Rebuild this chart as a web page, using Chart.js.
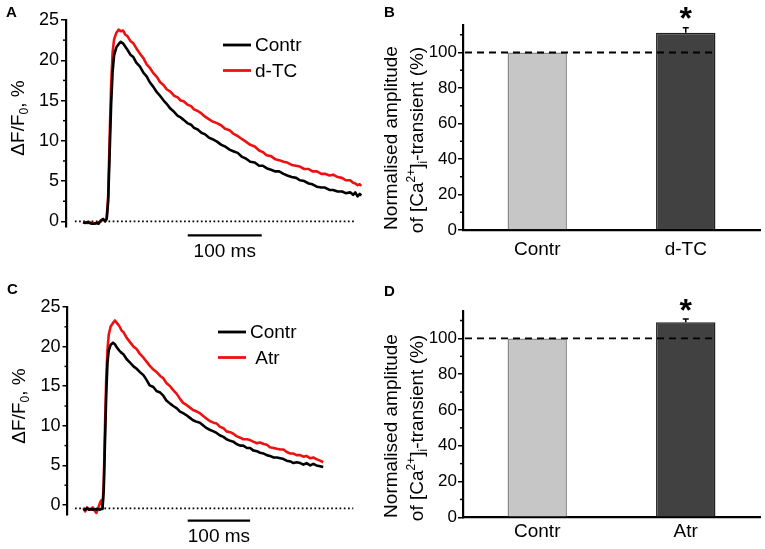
<!DOCTYPE html>
<html>
<head>
<meta charset="utf-8">
<script src="https://cdn.jsdelivr.net/npm/chart.js@4.4.1/dist/chart.umd.min.js"></script>
<style>
  body { margin: 0; background: #fff; }
  #wrap { position: relative; width: 765px; height: 549px; font-family: 'Liberation Sans', Arial, sans-serif; color: #000; overflow: hidden; }
  canvas { position: absolute; }
  .letter { position: absolute; font-weight: bold; font-size: 15px; line-height: 15px; }
  .ytitle { position: absolute; white-space: nowrap; font-size: 19px; line-height: 19px; transform: translate(-50%, -50%) rotate(-90deg); }
  sup, sub { font-size: 12px; line-height: 0; }
</style>
</head>
<body>
<div id="wrap">
  <canvas id="chartA" style="left:0;top:0" width="380" height="270"></canvas>
  <canvas id="chartB" style="left:380px;top:0" width="385" height="270"></canvas>
  <canvas id="chartC" style="left:0;top:270px" width="380" height="279"></canvas>
  <canvas id="chartD" style="left:380px;top:270px" width="385" height="279"></canvas>

  <div class="letter" style="left:6px;top:4px">A</div>
  <div class="letter" style="left:384px;top:4px">B</div>
  <div class="letter" style="left:7px;top:281px">C</div>
  <div class="letter" style="left:384px;top:283px">D</div>

  <div class="ytitle" style="left:17px;top:118px">&Delta;F/F<sub>0</sub>, %</div>
  <div class="ytitle" style="left:18px;top:406px">&Delta;F/F<sub>0</sub>, %</div>

  <div class="ytitle" style="left:390px;top:138px">Normalised amplitude</div>
  <div class="ytitle" style="left:416px;top:140px">of [Ca<sup>2+</sup>]<sub>i</sub>-transient (%)</div>
  <div class="ytitle" style="left:390px;top:426px">Normalised amplitude</div>
  <div class="ytitle" style="left:416px;top:428px">of [Ca<sup>2+</sup>]<sub>i</sub>-transient (%)</div>
</div>

<script>
// ---- panel A: Ca transients, control vs d-TC (time in ms, dF/F0 in %)
const timeA = [0, 3, 6, 9, 12, 15, 18, 21, 24, 27, 30, 32, 34, 36, 38, 40, 42, 45, 48, 51,
  54, 57, 60, 64, 68, 72, 77, 82, 86, 90, 95, 100, 104, 109, 113, 118, 123, 128, 132, 136,
  141, 146, 150, 155, 160, 165, 170, 175, 181, 187, 192, 198, 203, 209, 215, 220, 226, 232, 238, 243,
  248, 254, 260, 265, 271, 276, 282, 288, 293, 299, 305, 310, 316, 322, 327, 333, 338, 344, 350, 355,
  361, 365, 368, 371, 374, 376];
const contrA = [-0.1, -0.2, -0.1, -0.2, -0.3, -0.3, -0.2, -0.3, 0.1, 0.3, 0.0, 0.3, 2.5, 8.5, 14.5, 18.6, 20.6, 21.6, 22.0, 22.3,
  22.1, 21.7, 21.3, 20.7, 20.4, 19.7, 19.2, 18.4, 18.0, 17.3, 16.7, 16.0, 15.6, 15.0, 14.6, 14.0, 13.6, 13.1, 12.9, 12.6,
  12.2, 12.0, 11.6, 11.4, 11.0, 10.8, 10.4, 10.2, 9.9, 9.5, 9.3, 8.9, 8.7, 8.5, 8.0, 7.8, 7.4, 7.3, 6.9, 6.9,
  6.6, 6.4, 6.2, 6.2, 5.9, 5.7, 5.5, 5.4, 5.1, 5.0, 4.7, 4.6, 4.3, 4.2, 4.2, 3.9, 3.9, 3.7, 3.7, 3.5,
  3.6, 3.3, 3.6, 3.1, 3.4, 3.2];
const dtcA = [-0.1, -0.1, -0.2, -0.1, -0.2, -0.3, -0.2, -0.1, 0.0, 0.2, 0.1, 0.4, 3.2, 10.5, 17.0, 21.0, 22.6, 23.4, 23.8, 23.6,
  23.7, 23.2, 23.0, 22.4, 22.1, 21.5, 20.8, 20.2, 19.5, 19.1, 18.4, 17.9, 17.3, 16.9, 16.4, 16.1, 15.6, 15.4, 15.0, 14.9,
  14.5, 14.3, 13.9, 13.7, 13.4, 13.0, 12.7, 12.4, 12.2, 11.9, 11.5, 11.3, 10.9, 10.6, 10.2, 9.9, 9.5, 9.3, 8.8, 8.6,
  8.2, 8.1, 7.7, 7.6, 7.4, 7.3, 7.0, 6.9, 6.8, 6.5, 6.5, 6.2, 6.2, 5.9, 5.9, 5.7, 5.8, 5.5, 5.4, 5.1,
  5.1, 4.8, 4.7, 4.5, 4.6, 4.4];
const legendA = ['Contr', 'd-TC'];

// ---- panel C: control vs Atr
const timeC = [0, 3, 6, 9, 12, 15, 18, 21, 24, 27, 29, 31, 33, 35, 37, 39, 41, 44, 48, 51,
  54, 58, 62, 65, 70, 75, 81, 86, 91, 97, 102, 107, 113, 118, 124, 129, 134, 140, 145, 151,
  156, 161, 167, 172, 177, 183, 188, 194, 199, 204, 210, 215, 220, 226, 231, 237, 242, 247, 253, 258,
  264, 269, 274, 280, 285, 291, 296, 301, 307, 312, 318, 323, 328, 334, 339, 344, 350, 355, 360, 366,
  371, 376, 382, 387];
const contrC = [-0.5, -0.6, -0.4, -0.6, -0.5, -0.6, -0.5, -0.6, -0.5, -0.6, -0.5, -0.5, 2.0, 8.0, 14.0, 18.0, 19.5, 20.2, 20.5, 20.3,
  19.9, 19.5, 19.2, 19.0, 18.4, 18.0, 17.5, 17.2, 16.8, 16.4, 15.8, 15.1, 14.9, 14.4, 14.2, 13.8, 13.2, 12.8, 12.5, 12.2,
  11.8, 11.6, 11.3, 11.0, 10.7, 10.5, 10.4, 10.0, 9.7, 9.5, 9.3, 9.1, 8.8, 8.6, 8.3, 8.1, 8.0, 7.7, 7.5, 7.5,
  7.2, 7.2, 6.9, 6.8, 6.6, 6.5, 6.3, 6.2, 6.0, 6.0, 5.9, 5.8, 5.6, 5.5, 5.3, 5.4, 5.3, 5.1, 5.3, 5.0,
  5.2, 5.0, 4.9, 4.8];
const atrC = [-0.4, -0.8, -0.3, -0.5, -0.6, -0.3, -0.7, -1.0, -0.4, 0.3, 0.6, -0.2, 2.8, 10.0, 16.0, 19.6, 21.5, 22.5, 23.0, 23.3,
  23.0, 22.6, 22.0, 21.8, 21.1, 20.6, 20.0, 19.7, 19.1, 18.6, 18.1, 17.6, 17.1, 16.8, 16.3, 16.0, 15.4, 15.0, 14.5, 14.0,
  13.4, 12.9, 12.6, 12.3, 12.0, 11.8, 11.6, 11.2, 10.9, 10.6, 10.4, 10.3, 9.9, 9.7, 9.3, 9.2, 9.0, 8.7, 8.5, 8.3,
  8.3, 8.2, 8.0, 7.8, 7.9, 7.7, 7.6, 7.3, 7.2, 7.1, 7.0, 7.0, 6.7, 6.5, 6.5, 6.3, 6.3, 6.1, 6.2, 5.9,
  6.0, 5.8, 5.6, 5.4];
const legendC = ['Contr', ' Atr'];

const traceTicks = [0, 5, 10, 15, 20, 25];
const traceMinor = [2.5, 7.5, 12.5, 17.5, 22.5];
const scaleBarLabel = '100 ms';

// ---- panels B and D: normalised amplitude (%)
const groupsB = ['Contr', 'd-TC'];
const ampB = [100, 111.2];
const semB = [0, 2.8];
const starB = ['', '*'];
const groupsD = ['Contr', 'Atr'];
const ampD = [100, 109];
const semD = [0, 1.8];
const starD = ['', '*'];
const barTicks = [0, 20, 40, 60, 80, 100];
const barMinor = [10, 30, 50, 70, 90, 110];
const refLevel = 100;

const FONT = "'Liberation Sans', Arial, sans-serif";
Chart.defaults.font.family = FONT;
Chart.defaults.color = '#000';
Chart.defaults.animation = false;

function pts(t, v) {
  return t.map((x, i) => ({ x: x, y: v[i] }));
}

function minorTicksPlugin(values) {
  return {
    id: 'minorTicks',
    afterDraw(chart) {
      const y = chart.scales.y, ctx = chart.ctx;
      const x0 = chart.chartArea.left;
      ctx.save();
      ctx.strokeStyle = '#000';
      ctx.lineWidth = 1.5;
      values.forEach(v => {
        const py = y.getPixelForValue(v);
        ctx.beginPath();
        ctx.moveTo(x0 - 3, py);
        ctx.lineTo(x0, py);
        ctx.stroke();
      });
      ctx.restore();
    }
  };
}

function traceChart(id, cfg) {
  const legendPlugin = {
    id: 'traceLegend',
    afterDraw(chart) {
      const ctx = chart.ctx;
      ctx.save();
      ctx.font = '19px ' + FONT;
      ctx.textBaseline = 'middle';
      ctx.fillStyle = '#000';
      cfg.legend.forEach((label, i) => {
        const ly = cfg.legendY + i * cfg.legendGap;
        ctx.strokeStyle = i === 0 ? '#000' : '#ee1111';
        ctx.lineWidth = 2.8;
        ctx.beginPath();
        ctx.moveTo(cfg.legendX, ly);
        ctx.lineTo(cfg.legendX + 28, ly);
        ctx.stroke();
        ctx.fillText(label, cfg.legendX + 32, ly + 1);
      });
      // scale bar label
      const xs = chart.scales.x, ys = chart.scales.y;
      ctx.textAlign = 'center';
      ctx.fillText(scaleBarLabel, xs.getPixelForValue((cfg.bar[0] + cfg.bar[1]) / 2), ys.getPixelForValue(cfg.barY) + cfg.barTextGap);
      ctx.restore();
    }
  };

  return new Chart(document.getElementById(id), {
    type: 'line',
    data: {
      datasets: [
        { data: pts(cfg.time, cfg.contr), borderColor: '#000', borderWidth: 2.6 },
        { data: pts(cfg.time, cfg.drug), borderColor: '#ee1111', borderWidth: 2.6 },
        { data: [{ x: cfg.base[0], y: cfg.baseY }, { x: cfg.base[1], y: cfg.baseY }],
          borderColor: '#000', borderWidth: 1.7, borderDash: [1.7, 2.5] },
        { data: [{ x: cfg.bar[0], y: cfg.barY }, { x: cfg.bar[1], y: cfg.barY }],
          borderColor: '#000', borderWidth: 2.2, clip: false }
      ]
    },
    options: {
      responsive: false,
      events: [],
      elements: { point: { radius: 0 }, line: { tension: 0, borderCapStyle: 'butt', borderJoinStyle: 'round' } },
      layout: { padding: cfg.padding },
      plugins: { legend: { display: false }, tooltip: { enabled: false } },
      scales: {
        x: { type: 'linear', display: false, min: cfg.xmin, max: cfg.xmax },
        y: {
          min: cfg.ymin, max: 25,
          afterBuildTicks: s => { s.ticks = traceTicks.map(v => ({ value: v })); },
          afterFit: s => { s.width = cfg.axisW; },
          ticks: { font: { size: 18 }, color: '#000', padding: 2 },
          grid: { drawOnChartArea: false, drawTicks: true, tickLength: 5, color: '#000', lineWidth: 1.5 },
          border: { color: '#000', width: 2.2 }
        }
      }
    },
    plugins: [minorTicksPlugin(traceMinor), legendPlugin]
  });
}

function barChart(id, cfg) {
  const extras = {
    id: 'barExtras',
    afterDatasetsDraw(chart) {
      const meta = chart.getDatasetMeta(0), y = chart.scales.y, ctx = chart.ctx;
      const last = meta.data[meta.data.length - 1];
      const ry = y.getPixelForValue(refLevel);
      ctx.save();
      ctx.strokeStyle = '#000';
      ctx.lineWidth = 1.8;
      ctx.setLineDash([7, 5]);
      ctx.beginPath();
      ctx.moveTo(chart.chartArea.left + 2, ry);
      ctx.lineTo(last.x + last.width / 2, ry);
      ctx.stroke();
      ctx.setLineDash([]);
      meta.data.forEach((bar, i) => {
        if (!cfg.sem[i]) return;
        const top = y.getPixelForValue(cfg.amp[i] + cfg.sem[i]);
        ctx.lineWidth = 1.5;
        ctx.beginPath();
        ctx.moveTo(bar.x, bar.y);
        ctx.lineTo(bar.x, top);
        ctx.moveTo(bar.x - 3, top);
        ctx.lineTo(bar.x + 3, top);
        ctx.stroke();
        if (cfg.star[i]) {
          ctx.font = 'bold 32px ' + FONT;
          ctx.textAlign = 'center';
          ctx.textBaseline = 'alphabetic';
          ctx.fillStyle = '#000';
          ctx.fillText(cfg.star[i], bar.x, top - 17 + 0.575 * 32);
        }
      });
      ctx.restore();
    }
  };

  return new Chart(document.getElementById(id), {
    type: 'bar',
    data: {
      labels: cfg.groups,
      datasets: [{
        data: cfg.amp,
        backgroundColor: ['#c6c6c6', '#414141'],
        borderColor: ['#8a8a8a', '#1e1e1e'],
        borderWidth: 1.5,
        borderSkipped: 'bottom',
        barPercentage: 0.4,
        categoryPercentage: 1
      }]
    },
    options: {
      responsive: false,
      events: [],
      layout: { padding: cfg.padding },
      plugins: { legend: { display: false }, tooltip: { enabled: false } },
      scales: {
        x: {
          grid: { display: false, drawTicks: false },
          border: { color: '#000', width: 2.2 },
          ticks: { font: { size: 19 }, color: '#000', padding: cfg.labelPad },
          afterFit: s => { s.height = cfg.axisH; }
        },
        y: {
          min: 0, max: 115.5,
          afterBuildTicks: s => { s.ticks = barTicks.map(v => ({ value: v })); },
          afterFit: s => { s.width = 83; },
          ticks: { font: { size: 17 }, color: '#000', padding: 1 },
          grid: { drawOnChartArea: false, drawTicks: true, tickLength: 5, color: '#000', lineWidth: 1.5 },
          border: { color: '#000', width: 2.2 }
        }
      }
    },
    plugins: [minorTicksPlugin(barMinor), extras]
  });
}

traceChart('chartA', {
  time: timeA, contr: contrA, drug: dtcA, legend: legendA,
  xmin: -23, xmax: 382.4, ymin: -0.7, axisW: 66,
  padding: { top: 20, bottom: 43, left: 0, right: 14 },
  base: [-11, 368], baseY: 0,
  bar: [141.5, 241.5], barY: -1.75, barTextGap: 16,
  legendX: 223, legendY: 45, legendGap: 25.5
});

traceChart('chartC', {
  time: timeC, contr: contrC, drug: atrC, legend: legendC,
  xmin: -25.5, xmax: 458.4, ymin: -1.26, axisW: 67.5,
  padding: { top: 37, bottom: 34, left: 0, right: 12.5 },
  base: [-13.4, 435.5], baseY: -0.42,
  bar: [168.4, 269], barY: -1.98, barTextGap: 16,
  legendX: 218, legendY: 62, legendGap: 25.5
});

barChart('chartB', {
  groups: groupsB, amp: ampB, sem: semB, star: starB,
  padding: { top: 25, bottom: 0, left: 0, right: 5 }, axisH: 40, labelPad: 8
});

barChart('chartD', {
  groups: groupsD, amp: ampD, sem: semD, star: starD,
  padding: { top: 40.7, bottom: 0, left: 0, right: 5 }, axisH: 31.7, labelPad: 3
});
</script>
</body>
</html>
